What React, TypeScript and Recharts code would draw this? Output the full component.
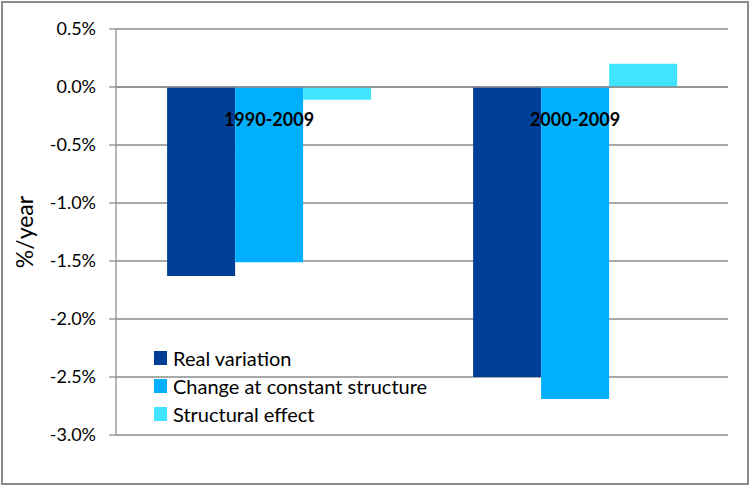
import { Bar, BarChart, CartesianGrid, ReferenceLine, XAxis, YAxis } from 'recharts'

const periods = ['1990-2009', '2000-2009']
const realVariation = [-1.63, -2.5]
const constantStructure = [-1.51, -2.69]
const structuralEffect = [-0.11, 0.2]
const yTicks = [-3, -2.5, -2, -1.5, -1, -0.5, 0, 0.5]

const series = [
  { key: 'real', label: 'Real variation', color: '#003f98' },
  { key: 'constant', label: 'Change at constant structure', color: '#00b0ff' },
  { key: 'structural', label: 'Structural effect', color: '#40e4ff' }
]

const data = periods.map((period, i) => ({
  period,
  real: realVariation[i],
  constant: constantStructure[i],
  structural: structuralEffect[i]
}))

const W = 752
const H = 488
const margin = { top: 29, right: 24, bottom: 52, left: 0 }
const xAxisH = 1
const yMin = -3
const yMax = 0.5
const plotH = H - margin.top - margin.bottom - xAxisH
const zeroY = margin.top + (plotH * yMax) / (yMax - yMin)
const font = 'Lato, "Open Sans", sans-serif'
const grid = '#8c8c8c'

// category names sit just under the zero line, where the x axis crosses
function PeriodTick({ x, payload }: any) {
  return (
    <text
      x={x}
      y={zeroY + 39}
      textAnchor="middle"
      fontFamily={font}
      fontWeight={700}
      fontSize={18}
      fill="#000"
    >
      {payload.value}
    </text>
  )
}

function KeyBox() {
  return (
    <div style={{ position: 'absolute', left: 154, top: 344, fontFamily: font, fontSize: 20 }}>
      {series.map((s) => (
        <div key={s.key} style={{ display: 'flex', alignItems: 'center', height: 28 }}>
          <span style={{ width: 13, height: 14, background: s.color, marginRight: 6 }} />
          <span style={{ color: '#000' }}>{s.label}</span>
        </div>
      ))}
    </div>
  )
}

export default function App() {
  return (
    <div style={{ position: 'absolute', left: 0, top: 0, width: W, height: H, background: '#fff' }}>
      <div
        style={{
          position: 'absolute',
          left: 1,
          top: 1,
          width: W - 4,
          height: H - 4,
          border: '2px solid #8c8c8c',
          boxSizing: 'border-box'
        }}
      />
      <BarChart width={W} height={H} data={data} margin={margin} barGap={0} barCategoryGap="16.7%">
        <CartesianGrid vertical={false} stroke={grid} strokeWidth={1.3} />
        <XAxis
          dataKey="period"
          height={xAxisH}
          axisLine={false}
          tickLine={false}
          tick={<PeriodTick />}
          interval={0}
        />
        <YAxis
          width={116}
          domain={[yMin, yMax]}
          ticks={yTicks}
          tickFormatter={(v: number) => `${v.toFixed(1)}%`}
          tickSize={7}
          tickMargin={13}
          axisLine={{ stroke: grid, strokeWidth: 1.3 }}
          tickLine={{ stroke: grid, strokeWidth: 1.3 }}
          tick={{ fill: '#000', fontSize: 18, fontFamily: font }}
          label={{
            value: '%/year',
            angle: -90,
            position: 'insideLeft',
            dx: 20,
            style: { fill: '#000', fontSize: 23, fontFamily: font, textAnchor: 'middle' }
          }}
        />
        <ReferenceLine y={0} stroke={grid} strokeWidth={1.3} />
        {series.map((s) => (
          <Bar key={s.key} dataKey={s.key} name={s.label} fill={s.color} isAnimationActive={false} />
        ))}
      </BarChart>
      <KeyBox />
    </div>
  )
}
